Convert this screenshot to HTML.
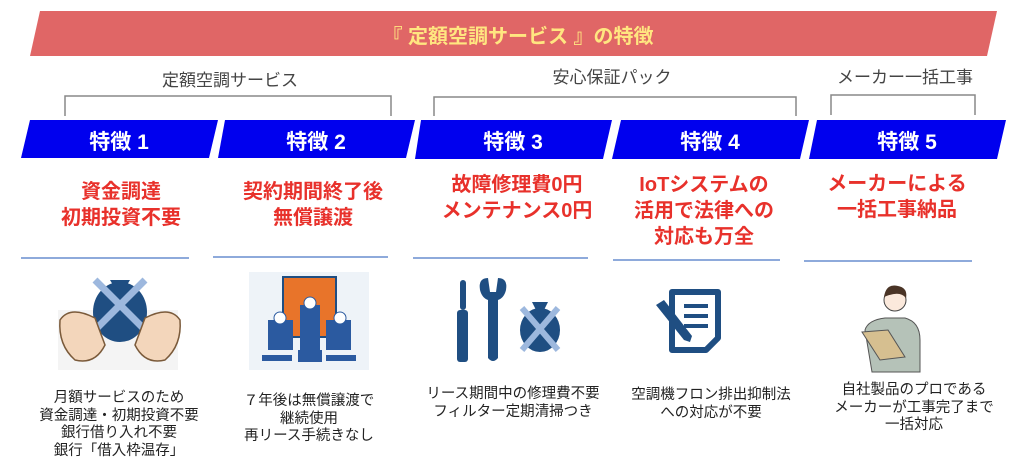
<!DOCTYPE html>
<html><head><meta charset="utf-8"><style>
body{margin:0;width:1024px;height:470px;background:#fff;position:relative;overflow:hidden;font-family:"Liberation Sans","Noto Sans CJK JP",sans-serif}
.t{position:absolute;text-align:center;white-space:nowrap;transform:translateX(-50%)}
.g{font-size:17px;color:#444}
.r{font-size:20px;font-weight:bold;color:#e8312b;line-height:26px}
.d{font-size:14.5px;color:#222;line-height:17.5px}
.w{font-size:21px;font-weight:bold;color:#fff}
.hl{position:absolute;height:2px;background:#8eaadb}
</style></head><body>
<svg width="1024" height="470" style="position:absolute;left:0;top:0">
<polygon points="40,11 997,11 987,56 30,56" fill="#e06666"/>
<g fill="none" stroke="#888" stroke-width="1.5">
<polyline points="65,116 65,96 391,96 391,116"/>
<polyline points="434,116 434,97 796,97 796,116"/>
<polyline points="831,115 831,95 975,95 975,115"/>
</g>
<g fill="#0000ee">
<polygon points="30,120 218,120 209,158 21,158"/>
<polygon points="225,120 415,120 406,158 218,158"/>
<polygon points="421,120 612,120 603,159 415,159"/>
<polygon points="621,120 809,120 800,159 612,159"/>
<polygon points="817,120 1006,120 997,159 809,159"/>
</g>
<rect x="58" y="310" width="120" height="60" fill="#f4f4f4"/>
<ellipse cx="120" cy="312" rx="27" ry="30" fill="#1f4e82"/>
<path d="M110 280 L130 280 L124 290 L116 290Z" fill="#1f4e82"/>
<path d="M95 280 L145 330 M145 280 L95 330" stroke="#9db8de" stroke-width="7"/>
<path d="M60 320 Q70 305 95 318 L105 345 Q95 365 75 360 Q58 345 60 320Z" fill="#f3d6bb" stroke="#7a5a3a" stroke-width="1.5"/>
<path d="M180 320 Q170 305 145 318 L135 345 Q145 365 165 360 Q182 345 180 320Z" fill="#f3d6bb" stroke="#7a5a3a" stroke-width="1.5"/>
<rect x="249" y="272" width="120" height="98" fill="#eef3f8"/>
<rect x="283" y="277" width="53" height="60" fill="#e8742a" stroke="#1f4e82" stroke-width="2"/>
<g fill="#2b5aa0"><rect x="268" y="320" width="25" height="30"/><rect x="300" y="305" width="20" height="45"/><rect x="326" y="320" width="25" height="30"/>
<circle cx="280" cy="318" r="6" fill="#fff" stroke="#2b5aa0"/><circle cx="310" cy="303" r="6" fill="#fff" stroke="#2b5aa0"/><circle cx="340" cy="318" r="6" fill="#fff" stroke="#2b5aa0"/>
<rect x="262" y="355" width="30" height="6"/><rect x="298" y="350" width="24" height="12"/><rect x="326" y="355" width="30" height="6"/></g>
<g fill="#1f4e82">
<rect x="460" y="280" width="6" height="30" rx="3"/><rect x="457" y="310" width="11" height="52" rx="3"/>
<path d="M480 290 Q478 278 488 278 L490 292 L496 292 L498 278 Q508 278 506 290 Q504 298 498 300 L498 358 Q493 364 488 358 L488 300 Q482 298 480 290Z"/>
<ellipse cx="540" cy="330" rx="20" ry="22"/><path d="M532 302 L548 302 L544 310 L536 310Z"/>
</g>
<path d="M522 308 L558 350 M558 308 L522 350" stroke="#9db8de" stroke-width="6"/>
<path d="M672 292 L718 292 L718 338 L706 350 L672 350 Z" fill="none" stroke="#1f4e82" stroke-width="6" stroke-linejoin="round"/>
<g stroke="#1f4e82" stroke-width="4"><line x1="684" y1="306" x2="708" y2="306"/><line x1="684" y1="316" x2="708" y2="316"/><line x1="684" y1="326" x2="708" y2="326"/></g>
<path d="M656 305 L664 300 L692 336 L690 342 L684 340Z" fill="#1f4e82"/>
<path d="M865 330 Q868 320 885 318 L905 318 Q920 322 920 340 L920 372 L872 372Z" fill="#b5c2b8" stroke="#555" stroke-width="1"/>
<circle cx="895" cy="300" r="11" fill="#fbe9dc" stroke="#444"/>
<path d="M884 297 Q886 283 898 286 Q908 288 906 298 Q900 290 884 297Z" fill="#4a3426"/>
<polygon points="862,332 888,330 905,357 880,360" fill="#d6bf90" stroke="#555"/>
</svg>
<div class="t" style="left:518px;top:20px;font-size:20px;font-weight:bold;color:#ffe680">『 定額空調サービス 』の特徴</div>
<div class="t g" style="left:230px;top:66px">定額空調サービス</div>
<div class="t g" style="left:612px;top:63px">安心保証パック</div>
<div class="t g" style="left:905px;top:63px">メーカー一括工事</div>
<div class="t w" style="left:119px;top:126px">特徴 1</div>
<div class="t w" style="left:316px;top:126px">特徴 2</div>
<div class="t w" style="left:513px;top:126px">特徴 3</div>
<div class="t w" style="left:710px;top:126px">特徴 4</div>
<div class="t w" style="left:907px;top:126px">特徴 5</div>
<div class="t r" style="left:121px;top:179px">資金調達<br>初期投資不要</div>
<div class="t r" style="left:313px;top:179px">契約期間終了後<br>無償譲渡</div>
<div class="t r" style="left:517px;top:172px">故障修理費0円<br>メンテナンス0円</div>
<div class="t r" style="left:704px;top:172px">IoTシステムの<br>活用で法律への<br>対応も万全</div>
<div class="t r" style="left:897px;top:171px">メーカーによる<br>一括工事納品</div>
<div class="hl" style="left:21px;top:257px;width:168px"></div>
<div class="hl" style="left:213px;top:256px;width:175px"></div>
<div class="hl" style="left:413px;top:257px;width:175px"></div>
<div class="hl" style="left:613px;top:259px;width:167px"></div>
<div class="hl" style="left:804px;top:260px;width:168px"></div>
<div class="t d" style="left:119px;top:390px">月額サービスのため<br>資金調達・初期投資不要<br>銀行借り入れ不要<br>銀行「借入枠温存」</div>
<div class="t d" style="left:309px;top:393px">７年後は無償譲渡で<br>継続使用<br>再リース手続きなし</div>
<div class="t d" style="left:513px;top:386px">リース期間中の修理費不要<br>フィルター定期清掃つき</div>
<div class="t d" style="left:711px;top:387px">空調機フロン排出抑制法<br>への対応が不要</div>
<div class="t d" style="left:914px;top:382px">自社製品のプロである<br>メーカーが工事完了まで<br>一括対応</div>
</body></html>
